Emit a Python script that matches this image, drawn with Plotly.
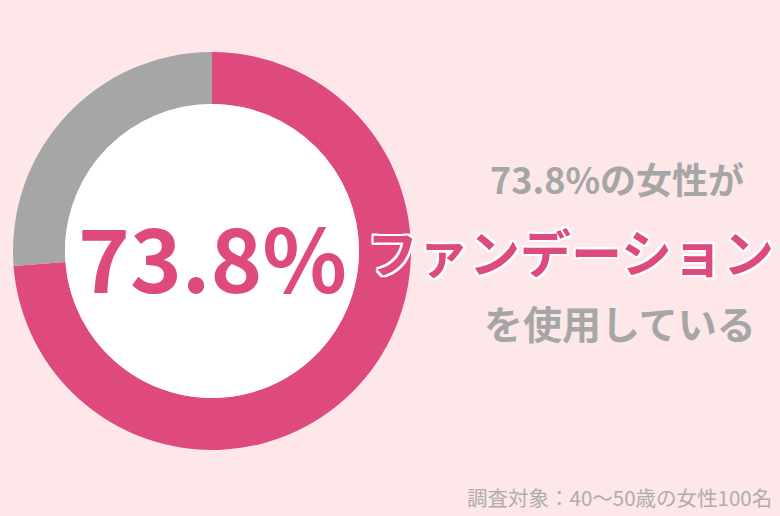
import plotly.graph_objects as go

labels = ["使用している", "使用していない"]
values = [73.8, 26.2]
colors = ["#de4a7e", "#a6a6a6"]

center_text = "73.8%"
line1 = "73.8%の女性が"
line2 = "ファンデーション"
line3 = "を使用している"
footer = "調査対象：40〜50歳の女性100名"

W, H = 780, 516
BG = "#fde7e9"
GRAY = "#a6a6a6"
PINK = "#de4a7e"

cx, cy = 212, 251
r_out, r_in = 199, 147


def dom(r):
    return dict(x=[(cx - r) / W, (cx + r) / W],
                y=[(H - cy - r) / H, (H - cy + r) / H])


fig = go.Figure()
fig.add_trace(go.Pie(
    labels=labels, values=values, sort=False, direction="clockwise", rotation=0,
    marker=dict(colors=colors, line=dict(width=0)),
    textinfo="none", hoverinfo="label+percent", hole=r_in / r_out,
    domain=dom(r_out), showlegend=False,
))
# white disc inside the hole
fig.add_trace(go.Pie(
    values=[1], marker=dict(colors=["#ffffff"], line=dict(width=0)),
    textinfo="none", hoverinfo="skip", domain=dom(r_in), showlegend=False,
))

FONT = "Noto Sans CJK JP"


def ann(text, x, y, size, color, anchor="right", weight="bold", shadow=None):
    f = dict(family=FONT, size=size, color=color, weight=weight)
    if shadow:
        f["shadow"] = shadow
    fig.add_annotation(text=text, x=x / W, y=1 - y / H, xref="paper", yref="paper",
                       xanchor=anchor, yanchor="middle", showarrow=False, font=f)


ann(center_text, 213, 254, 88, PINK, anchor="center")
ann(line1, 746, 178, 36, GRAY)
outline = ",".join(f"{dx}px {dy}px 0 #ffffff" for dx, dy in
                   [(2, 0), (-2, 0), (0, 2), (0, -2), (2, 2), (-2, -2), (2, -2), (-2, 2)])
ann(line2, 776, 251, 51, PINK, shadow=outline)
ann(line3, 758, 322, 39, GRAY)
ann(footer, 774, 497, 20.5, "#b0acad", weight="normal")

fig.update_layout(width=W, height=H, margin=dict(l=0, r=0, t=0, b=0),
                  paper_bgcolor=BG, plot_bgcolor=BG, showlegend=False)

fig.write_html("out.html", config={"displayModeBar": False},
               post_script="document.body.style.margin='0';")
